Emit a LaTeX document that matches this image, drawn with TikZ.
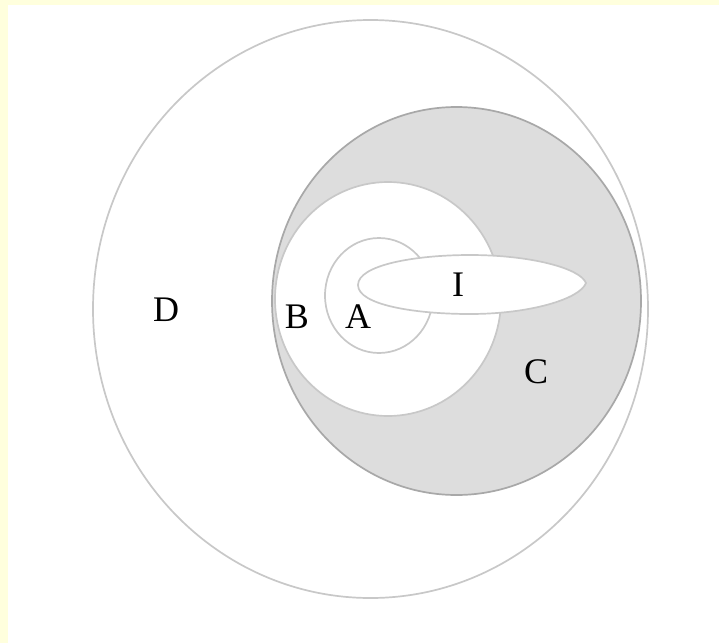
\documentclass[tikz,border=0pt]{standalone}
\usepackage{fontspec}
\setmainfont{Liberation Serif}
\definecolor{bgyellow}{HTML}{FFFFDD}
\definecolor{lightline}{HTML}{C8C8C8}
\definecolor{darkline}{HTML}{A8A8A8}
\definecolor{shade}{HTML}{DDDDDD}
\tikzset{
  region/.style={line width=1.7pt},
  lab/.style={font=\fontsize{36}{40}\selectfont, inner sep=0pt, text=black},
}
\begin{document}
\begin{tikzpicture}[x=1pt,y=-1pt]
\useasboundingbox (0,0) rectangle (719,643);
\fill[bgyellow] (0,0) rectangle (719,643);
\fill[white] (8,5) rectangle (719,643);
% D
\draw[region, lightline] (370.5,309) ellipse [x radius=277.5, y radius=289];
% C
\draw[region, darkline, fill=shade] (456.5,301) ellipse [x radius=184.5, y radius=194];
% B
\draw[region, lightline, fill=white] (388,299) ellipse [x radius=113, y radius=117];
% A
\draw[region, lightline] (379,295.5) ellipse [x radius=54, y radius=57.5];
% I (leaf-shaped, softly pointed at the right)
\draw[region, lightline, fill=white]
  (358,285) .. controls (358,265) and (415,255) .. (470,255)
  .. controls (530,255) and (580,268) .. (586,283)
  .. controls (580,299) and (530,314) .. (470,314)
  .. controls (415,314) and (358,305) .. cycle;
% labels
\node[lab] (D) at (166,310) {D};
\node[lab] (B) at (297,317) {B};
\node[lab] (A) at (358,317) {A};
\node[lab] (I) at (458,285) {I};
\node[lab] (C) at (536,372) {C};
\end{tikzpicture}
\end{document}
